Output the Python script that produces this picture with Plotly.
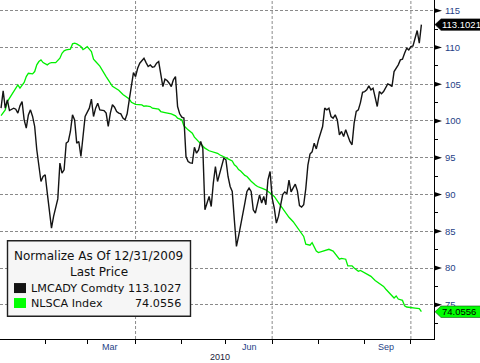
import plotly.graph_objects as go
import pandas as pd

# ---------------- data ----------------
# trading-day offset from 2010-01-01 (weekdays only) and normalised value
black_day = [0, 1, 2, 3, 4, 6, 7, 8, 9, 10, 11, 12, 13, 14, 15, 16, 17, 18, 19, 20,
             21, 22, 23, 24, 25, 26, 27, 28, 29, 30, 31, 32, 33, 34, 35, 36, 37, 38, 39, 40,
             42, 43, 44, 45, 46, 47, 49, 50, 51, 52, 53, 54, 55, 56, 57, 58, 59, 60, 61, 62,
             63, 64, 65, 66, 67, 68, 69, 70, 71, 72, 73, 74, 75, 76, 77, 78, 79, 80, 81, 82,
             83, 84, 85, 86, 87, 88, 89, 90, 91, 92, 93, 94, 95, 96, 97, 99, 100, 101, 102, 103,
             104, 106, 107, 108, 109, 110, 111, 112, 113, 114, 115, 116, 117, 118, 119, 120, 121, 122, 123, 124,
             125, 126, 127, 128, 129, 130, 131, 132, 133, 134, 135, 136, 137, 138, 139, 140, 141, 142, 143, 144,
             145, 146, 147, 148, 149, 150, 151, 152, 153, 154, 155, 156, 157, 158, 159, 160, 161, 162, 163, 164,
             165, 166, 167, 168, 169, 170, 171, 172, 173, 174, 175, 176, 177, 178, 179, 180, 181, 182, 183, 184,
             185, 186, 187, 188, 189, 190, 191, 192, 193, 194, 195, 196, 197, 198, 199, 200]
black_val = [101.74, 104.09, 101.74, 102.87, 101.42, 101.74, 101.60, 101.06, 102.06, 102.64,
             100.15, 99.02, 100.83, 101.51, 100.61, 99.25, 96.08, 93.81, 91.77, 92.45,
             92.68, 90.19, 87.47, 85.43, 87.02, 88.38, 89.40, 94.27, 92.91, 93.36,
             96.98, 97.21, 98.57, 100.83, 100.15, 96.98, 97.21, 95.17, 97.66, 100.61,
             101.74, 102.96, 100.61, 101.74, 102.42, 101.51, 101.40, 101.06, 99.25, 101.06,
             102.20, 101.87, 101.28, 101.06, 100.97, 100.38, 100.15, 100.97, 102.87, 105.13,
             106.58, 106.04, 107.17, 107.85, 108.21, 108.53, 107.94, 107.40, 107.62, 107.30,
             107.40, 107.85, 108.08, 106.49, 104.68, 105.68, 105.50, 105.13, 104.68, 105.60,
             106.04, 101.96, 100.97, 100.51, 100.40, 95.17, 94.49, 94.30, 94.26, 96.43,
             95.62, 96.07, 97.21, 96.30, 87.92, 89.73, 88.37, 91.55, 93.81, 91.77,
             92.90, 94.94, 94.72, 92.45, 91.09, 90.41, 86.56, 82.94, 84.30, 85.66,
             87.02, 88.83, 90.41, 90.87, 90.41, 87.92, 87.47, 88.80, 89.96, 88.83,
             89.73, 88.60, 92.00, 93.13, 89.50, 88.15, 86.11, 87.02, 88.40, 90.00,
             90.35, 90.10, 91.95, 90.35, 90.90, 91.40, 90.50, 88.50, 88.30, 88.60,
             90.80, 94.00, 95.50, 95.80, 96.98, 96.20, 97.40, 98.30, 99.24, 101.74,
             101.51, 101.74, 100.61, 100.38, 100.83, 100.15, 98.12, 98.57, 97.89, 98.80,
             97.89, 97.21, 96.76, 99.70, 101.29, 101.51, 102.50, 103.90, 104.00, 104.23,
             104.77, 104.23, 104.46, 103.10, 101.97, 104.00, 103.70, 104.00, 104.46, 105.05,
             104.91, 104.68, 106.72, 107.17, 107.63, 108.31, 108.40, 109.21, 109.89, 109.67,
             110.12, 110.20, 111.25, 112.30, 110.57, 113.10]

green_day = [0, 2, 3, 5, 7, 8, 9, 10, 11, 12, 13, 15, 16, 17, 18, 19, 20, 22, 23, 24,
             26, 28, 29, 30, 31, 33, 34, 35, 36, 38, 39, 40, 41, 43, 44, 45, 47, 50, 53, 56,
             58, 61, 62, 64, 67, 68, 69, 71, 72, 75, 76, 78, 80, 81, 83, 84, 86, 87, 89, 91,
             92, 94, 95, 97, 99, 103, 104, 106, 108, 110, 111, 112, 113, 114, 116, 117, 118, 119, 121, 122,
             124, 126, 128, 130, 132, 134, 136, 137, 139, 141, 142, 144, 145, 147, 148, 149, 150, 151, 153, 155,
             156, 158, 159, 160, 161, 162, 164, 165, 167, 168, 170, 171, 173, 176, 178, 180, 182, 183, 185, 187,
             188, 189, 191, 192, 193, 195, 197, 199, 200]
green_val = [100.74, 101.51, 102.64, 103.55, 104.46, 104.91, 104.46, 104.91, 105.23, 106.04,
             106.49, 106.40, 106.72, 107.63, 108.08, 108.30, 107.94, 107.63, 107.85, 107.94,
             107.94, 108.53, 109.21, 109.53, 109.66, 109.76, 110.48, 110.57, 110.48, 110.12,
             109.70, 109.89, 110.12, 109.44, 108.40, 108.08, 107.45, 106.04, 104.72, 104.18,
             103.60, 103.00, 102.55, 102.25, 102.19, 102.00, 102.05, 101.96, 101.74, 101.60,
             101.28, 101.15, 101.06, 100.97, 100.70, 100.38, 100.15, 99.34, 98.79, 98.34,
             97.80, 97.20, 96.80, 96.30, 95.95, 95.60, 95.40, 95.17, 94.85, 94.55,
             94.04, 93.81, 93.40, 93.20, 92.60, 92.45, 92.10, 91.80, 91.30, 91.09,
             90.87, 90.64, 90.19, 89.73, 88.90, 88.05, 87.35, 86.90, 86.30, 85.50,
             85.00, 84.30, 83.25, 83.10, 83.45, 82.90, 82.30, 82.10, 82.26, 82.50,
             82.55, 82.30, 81.90, 81.45, 81.20, 81.30, 81.20, 80.30, 80.30, 80.00,
             79.55, 79.68, 79.32, 78.87, 78.30, 77.87, 77.50, 77.15, 76.60, 75.92,
             76.20, 75.79, 75.60, 74.88, 74.70, 74.66, 74.56, 74.47, 74.06]

series_names = ["LMCADY Comdty", "NLSCA Index"]
legend_values = ["113.1027", "74.0556"]
tag_values = [113.1021, 74.0556]
tag_texts = ["113.1021", "74.0556"]
legend_title = ["Normalize As Of 12/31/2009", "Last Price"]

y_ticks = [75, 80, 85, 90, 95, 100, 105, 110, 115]
month_starts = ["2010-02-01", "2010-03-01", "2010-04-01", "2010-05-03", "2010-06-01",
                "2010-07-01", "2010-08-02", "2010-09-01", "2010-10-01"]
quarter_lines = ["2010-04-01", "2010-07-01", "2010-10-01"]
month_labels = ["Mar", "Jun", "Sep"]
month_label_dates = ["2010-03-16", "2010-06-16", "2010-09-15"]
year_label = "2010"
year_label_date = "2010-05-27"

# ---------------- figure ----------------
days = pd.bdate_range("2010-01-01", periods=210)
black_x = [days[d] for d in black_day]
green_x = [days[d] for d in green_day]

BLACK = "#141414"
GREEN = "#00f000"
GRID = "#8a8a8a"
LABEL = "#1f3f86"
W_PLOT, H_PLOT = 434.0, 339.3


def px(x):
    return x / W_PLOT


def py(y):
    return 1 - y / H_PLOT


fig = go.Figure()
fig.add_trace(go.Scatter(x=green_x, y=green_val, mode="lines",
                         line=dict(color=GREEN, width=1.3), name=series_names[1]))
fig.add_trace(go.Scatter(x=black_x, y=black_val, mode="lines",
                         line=dict(color=BLACK, width=1.4), name=series_names[0]))

shapes = []
# vertical dashed gridlines at quarter boundaries
for d in quarter_lines:
    shapes.append(dict(type="line", xref="x", yref="paper", x0=d, x1=d, y0=0, y1=1,
                       line=dict(color=GRID, width=1, dash="3px,2px"), layer="below"))
# tick triangles on the right axis
for v in y_ticks:
    shapes.append(dict(type="path", xref="paper", yref="y",
                       path=f"M {px(434.5)},{v + 0.33} L {px(442)},{v} L {px(434.5)},{v - 0.33} Z",
                       fillcolor="black", line=dict(width=0)))
# value tags
tag_fill = ["black", "#00ff00"]
tag_font = ["white", "black"]
for v, fc in zip(tag_values, tag_fill):
    h = 0.78
    shapes.append(dict(type="path", xref="paper", yref="y",
                       path=(f"M {px(435)},{v} L {px(441)},{v + h} L {px(481)},{v + h} "
                             f"L {px(481)},{v - h} L {px(441)},{v - h} Z"),
                       fillcolor=fc, line=dict(color="#1a4d1a" if fc != "black" else "black", width=0.6)))
# legend box
shapes.append(dict(type="rect", xref="paper", yref="paper",
                   x0=px(7.5), x1=px(190.5), y0=py(316.5), y1=py(241),
                   fillcolor="#f6f6f6", line=dict(color="#202020", width=1.4)))
legend_colors = [BLACK, "#00ff00"]
row_y = [288.3, 303.3]
for c, ry in zip(legend_colors, row_y):
    shapes.append(dict(type="rect", xref="paper", yref="paper",
                       x0=px(14), x1=px(26), y0=py(ry + 5), y1=py(ry - 5),
                       fillcolor=c, line=dict(width=0)))

annotations = []
for t, v, fc in zip(tag_texts, tag_values, tag_font):
    annotations.append(dict(xref="paper", yref="y", x=px(440), y=v, text=t,
                            showarrow=False, xanchor="left", yanchor="middle",
                            font=dict(family="Liberation Sans", size=9.5, color=fc)))
for lab, d in zip(month_labels, month_label_dates):
    annotations.append(dict(xref="x", yref="paper", x=d, y=py(347), text=lab,
                            showarrow=False, xanchor="center", yanchor="middle",
                            font=dict(family="Liberation Sans", size=9, color=LABEL)))
annotations.append(dict(xref="x", yref="paper", x=year_label_date, y=py(357.5), text=year_label,
                        showarrow=False, xanchor="center", yanchor="middle",
                        font=dict(family="Liberation Sans", size=9, color="#1a1a3a")))
title_font = dict(family="DejaVu Sans", size=12, color="#111111")
row_font = dict(family="DejaVu Sans", size=11.2, color="#111111")
annotations.append(dict(xref="paper", yref="paper", x=px(98.5), y=py(256), text=legend_title[0],
                        showarrow=False, xanchor="center", yanchor="middle", font=title_font))
annotations.append(dict(xref="paper", yref="paper", x=px(98.5), y=py(272.3), text=legend_title[1],
                        showarrow=False, xanchor="center", yanchor="middle", font=title_font))
for name, val, ry in zip(series_names, legend_values, row_y):
    annotations.append(dict(xref="paper", yref="paper", x=px(28.5), y=py(ry), text=name,
                            showarrow=False, xanchor="left", yanchor="middle", font=row_font))
    annotations.append(dict(xref="paper", yref="paper", x=px(183), y=py(ry), text=val,
                            showarrow=False, xanchor="right", yanchor="middle", font=row_font))

fig.update_layout(
    width=480, height=363,
    margin=dict(l=0, r=46, t=0, b=24, autoexpand=False),
    paper_bgcolor="white", plot_bgcolor="white",
    showlegend=False,
    hovermode=False,
    shapes=shapes, annotations=annotations,
    xaxis=dict(
        type="date",
        range=["2009-12-31 12:00", "2010-10-18"],
        rangebreaks=[dict(bounds=["sat", "mon"])],
        tickmode="array", tickvals=month_starts, ticktext=[""] * len(month_starts),
        ticks="outside", ticklen=4, tickcolor="black", tickwidth=1,
        showgrid=False, zeroline=False,
        showline=True, linecolor="black", linewidth=1,
        fixedrange=True,
    ),
    yaxis=dict(
        side="right",
        range=[70.35, 116.45],
        tickmode="linear", tick0=75, dtick=5,
        ticks="outside", ticklen=8, tickcolor="rgba(0,0,0,0)",
        tickfont=dict(family="Liberation Sans", size=9.5, color=LABEL),
        showgrid=True, gridcolor=GRID, gridwidth=1, griddash="3px,2px",
        minor=dict(dtick=2.5, tick0=72.5, ticks="outside", ticklen=3, tickcolor="black",
                   showgrid=False),
        zeroline=False,
        showline=True, linecolor="black", linewidth=1,
        fixedrange=True,
    ),
)

fig.write_html("out.html", config={"displayModeBar": False, "staticPlot": True})

# remove the browser's default page margin so the figure sits at the top-left corner
with open("out.html", "r", encoding="utf-8") as f:
    html = f.read()
html = html.replace("<head>", "<head><style>html,body{margin:0;padding:0;overflow:hidden;}</style>", 1)
with open("out.html", "w", encoding="utf-8") as f:
    f.write(html)
